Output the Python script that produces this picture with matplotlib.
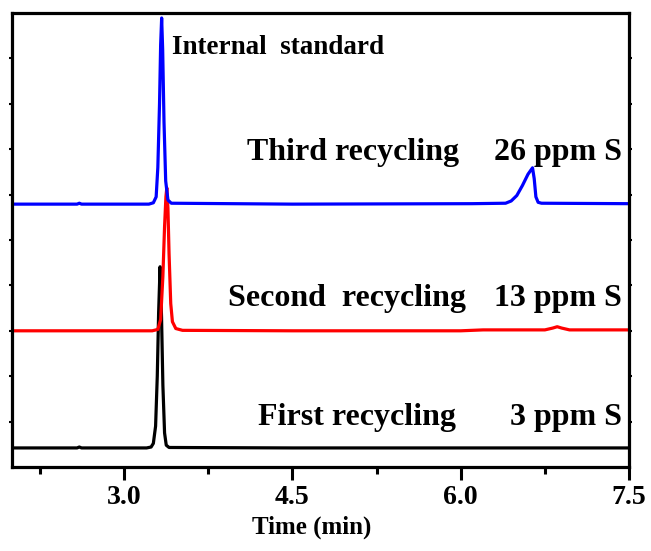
import matplotlib
matplotlib.use("Agg")
import matplotlib.pyplot as plt
from matplotlib.ticker import MultipleLocator

# ---- data (time in min, signal in arbitrary offset units) ----
first_t = [2.00, 2.58, 2.60, 2.62, 3.20, 3.24, 3.26, 3.28, 3.295, 3.307, 3.32, 3.333, 3.345, 3.36, 3.375, 3.40, 4.50, 6.00, 7.00, 7.50]
first_y = [0.42, 0.42, 0.44, 0.42, 0.42, 0.44, 0.52, 0.90, 2.00, 3.40, 4.41, 3.30, 1.80, 0.75, 0.48, 0.43, 0.42, 0.42, 0.42, 0.42]

second_t = [2.00, 3.25, 3.30, 3.325, 3.345, 3.36, 3.372, 3.38, 3.39, 3.40, 3.415, 3.43, 3.46, 3.52, 4.50, 6.00, 6.20, 6.75, 6.82, 6.86, 6.90, 6.97, 7.50]
second_y = [3.00, 3.00, 3.03, 3.25, 4.20, 5.30, 5.95, 6.15, 5.70, 4.70, 3.60, 3.20, 3.05, 3.01, 3.00, 3.00, 3.02, 3.02, 3.06, 3.09, 3.06, 3.02, 3.02]

third_t = [2.00, 2.58, 2.60, 2.62, 3.22, 3.26, 3.285, 3.30, 3.315, 3.325, 3.334, 3.343, 3.355, 3.37, 3.39, 3.42, 4.50, 6.10, 6.40, 6.45, 6.50, 6.55, 6.60, 6.64, 6.655, 6.67, 6.69, 6.72, 7.50]
third_y = [5.79, 5.79, 5.81, 5.79, 5.79, 5.82, 5.95, 6.60, 8.00, 9.30, 9.89, 9.20, 7.60, 6.30, 5.88, 5.81, 5.79, 5.80, 5.81, 5.86, 5.98, 6.20, 6.45, 6.59, 6.35, 5.95, 5.83, 5.81, 5.80]

x_ticks = [3.0, 4.5, 6.0, 7.5]
x_tick_labels = ["3.0", "4.5", "6.0", "7.5"]

fig = plt.figure(figsize=(6.51, 5.51), dpi=100)
ax = fig.add_axes([12/651, 84/551, 617/651, 454/551])

lw = 2.3
ax.plot(first_t, first_y, color="black", lw=lw, solid_joinstyle="round")
ax.plot(second_t, second_y, color="#ff0000", lw=lw, solid_joinstyle="round")
ax.plot(third_t, third_y, color="#0000ff", lw=lw, solid_joinstyle="round")

ax.set_xlim(2.0, 7.5)
ax.set_ylim(0, 10)

font = "Liberation Serif"
ax.set_xticks(x_ticks)
ax.set_xticklabels(x_tick_labels, fontfamily=font, fontweight="bold", fontsize=20)
ax.xaxis.set_minor_locator(MultipleLocator(0.75))
ax.tick_params(axis="x", which="major", direction="out", length=9, width=2.2, pad=4)
ax.tick_params(axis="x", which="minor", direction="out", length=5, width=2.2)
ax.set_yticks(range(1, 10))
ax.set_yticklabels([])
ax.tick_params(axis="y", which="major", direction="out", length=2, width=1.5,
               left=True, right=True, labelleft=False)

for sp in ax.spines.values():
    sp.set_linewidth(2.3)

ax.set_xlabel("Time (min)", fontfamily=font, fontweight="bold", fontsize=18)
ax.xaxis.set_label_coords(0.485, -0.107)

tk = dict(fontfamily=font, fontweight="bold", va="baseline")
ax.text(3.426, 9.10, "Internal  standard", fontsize=19.5, ha="left", **tk)
ax.text(4.094, 6.76, "Third recycling", fontsize=23, ha="left", **tk)
ax.text(7.437, 6.76, "26 ppm S", fontsize=23, ha="right", **tk)
ax.text(3.925, 3.55, "Second  recycling", fontsize=23, ha="left", **tk)
ax.text(7.437, 3.55, "13 ppm S", fontsize=23, ha="right", **tk)
ax.text(4.19, 0.925, "First recycling", fontsize=23, ha="left", **tk)
ax.text(7.437, 0.925, "3 ppm S", fontsize=23, ha="right", **tk)

fig.savefig("out.png", dpi=100)
